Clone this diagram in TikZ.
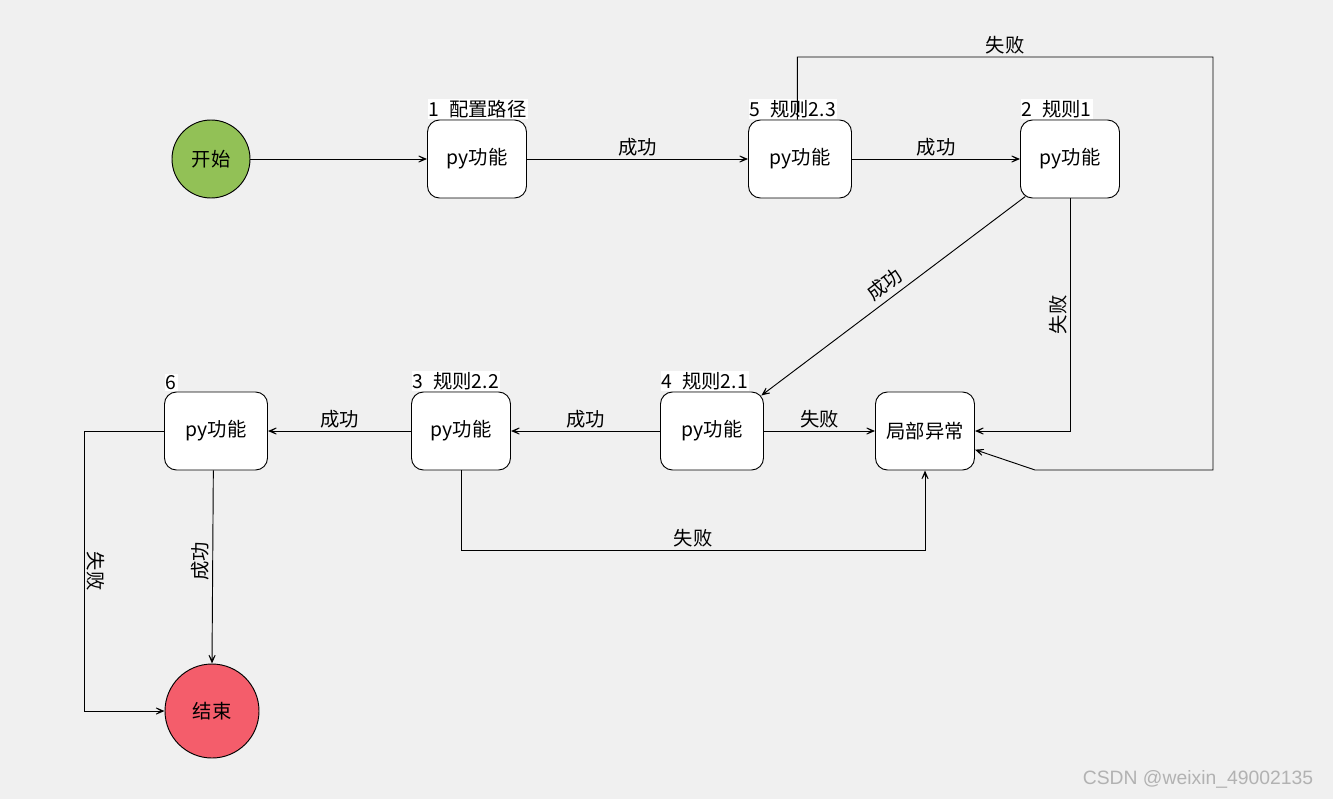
\documentclass[tikz,border=0pt]{standalone}
\usepackage{fontspec}
\setmainfont{Noto Sans CJK SC}
\newfontfamily\wmfont{Liberation Sans}
\usetikzlibrary{arrows.meta}

\begin{document}
\begin{tikzpicture}[x=0.75pt, y=-0.75pt, line width=0.7pt,
    font=\fontsize{14.5}{17}\selectfont,
    box/.style={draw, fill=white, rounded corners=9pt, minimum width=74.25pt, minimum height=58.5pt, inner sep=0pt},
    wbox/.style={box, minimum width=77.25pt},
    tag/.style={fill=white, inner sep=1pt, anchor=south west},
    flow/.style={-{Stealth[open, length=10pt, width=8.5pt, inset=7pt, line width=0.6pt]}},
    lbl/.style={inner sep=2pt}]
    \definecolor{mybg}{RGB}{240,240,240}
    \definecolor{mygo}{RGB}{146,193,86}
    \definecolor{mystop}{RGB}{244,93,107}

    % background and page size
    \fill[mybg] (0,0) rectangle (1333,799);

    % start and end
    \node[circle, draw, fill=mygo, minimum size=58.5pt, inner sep=0pt] (start) at (211,159) {开始};
    \node[circle, draw, fill=mystop, minimum size=70.5pt, inner sep=0pt] (stop) at (212,711) {结束};

    % steps
    \node[box]  (b1) at (477,159) {py功能};
    \node[wbox] (b5) at (800,159) {py功能};
    \node[box]  (b2) at (1070,159) {py功能};
    \node[box]  (err) at (925,431) {局部异常};
    \node[wbox] (b4) at (712,431) {py功能};
    \node[box]  (b3) at (461,431) {py功能};
    \node[wbox] (b6) at (216,431) {py功能};

    % step tags
    \node[tag] (t1) at (b1.north west) {1\enspace 配置路径};
    \node[tag] (t5) at (b5.north west) {5\enspace 规则2.3};
    \node[tag] (t2) at (b2.north west) {2\enspace 规则1};
    \node[tag] (t4) at (b4.north west) {4\enspace 规则2.1};
    \node[tag] (t3) at (b3.north west) {3\enspace 规则2.2};
    \node[tag] (t6) at (b6.north west) {6};

    % turning points
    \coordinate (c1) at (1213,57);
    \coordinate (c2) at (1213,470);
    \coordinate (c3) at (1035,470);

    % connectors
    \draw[flow] (start) -- (b1);
    \draw[flow] (b1) -- node[lbl, above] {成功} (b5);
    \draw[flow] (b5) -- node[lbl, above] {成功} (b2);
    \draw[flow] ([xshift=-2pt]b5.north) |- node[lbl, pos=0.75, above] {失败} (c1) -- (c2) -- (c3) -- ([yshift=-14pt]err.east);
    \draw[flow] (b2.south) |- node[lbl, pos=0.25, rotate=90, anchor=south] {失败} (err.east);
    \draw[flow] ([xshift=4pt,yshift=1.5pt]b2.south west) -- node[lbl, sloped, above, inner sep=4pt] {成功} ([xshift=-2pt,yshift=-3pt]b4.north east);
    \draw[flow] (b4) -- node[lbl, above] {失败} (err);
    \draw[flow] (b4) -- node[lbl, above] {成功} (b3);
    \draw[flow] (b3) -- node[lbl, above] {成功} (b6);
    \draw[flow] (b3.south) -- ++(0,80) -| node[lbl, pos=0.25, above] {失败} (err.south);
    \draw[flow] ([xshift=-2pt]b6.south) -- node[lbl, rotate=90, anchor=south, pos=0.47] {成功} (stop.north);
    \draw[flow] (b6.west) -- ++(-80,0) |- node[lbl, pos=0.25, rotate=-90, anchor=south] {失败} (stop.west);

    % watermark
    \node[text=black!30, font=\wmfont\fontsize{14.5}{17}\selectfont, anchor=east] (wm) at (1318,779) {CSDN @weixin\_49002135};
\end{tikzpicture}
\end{document}
